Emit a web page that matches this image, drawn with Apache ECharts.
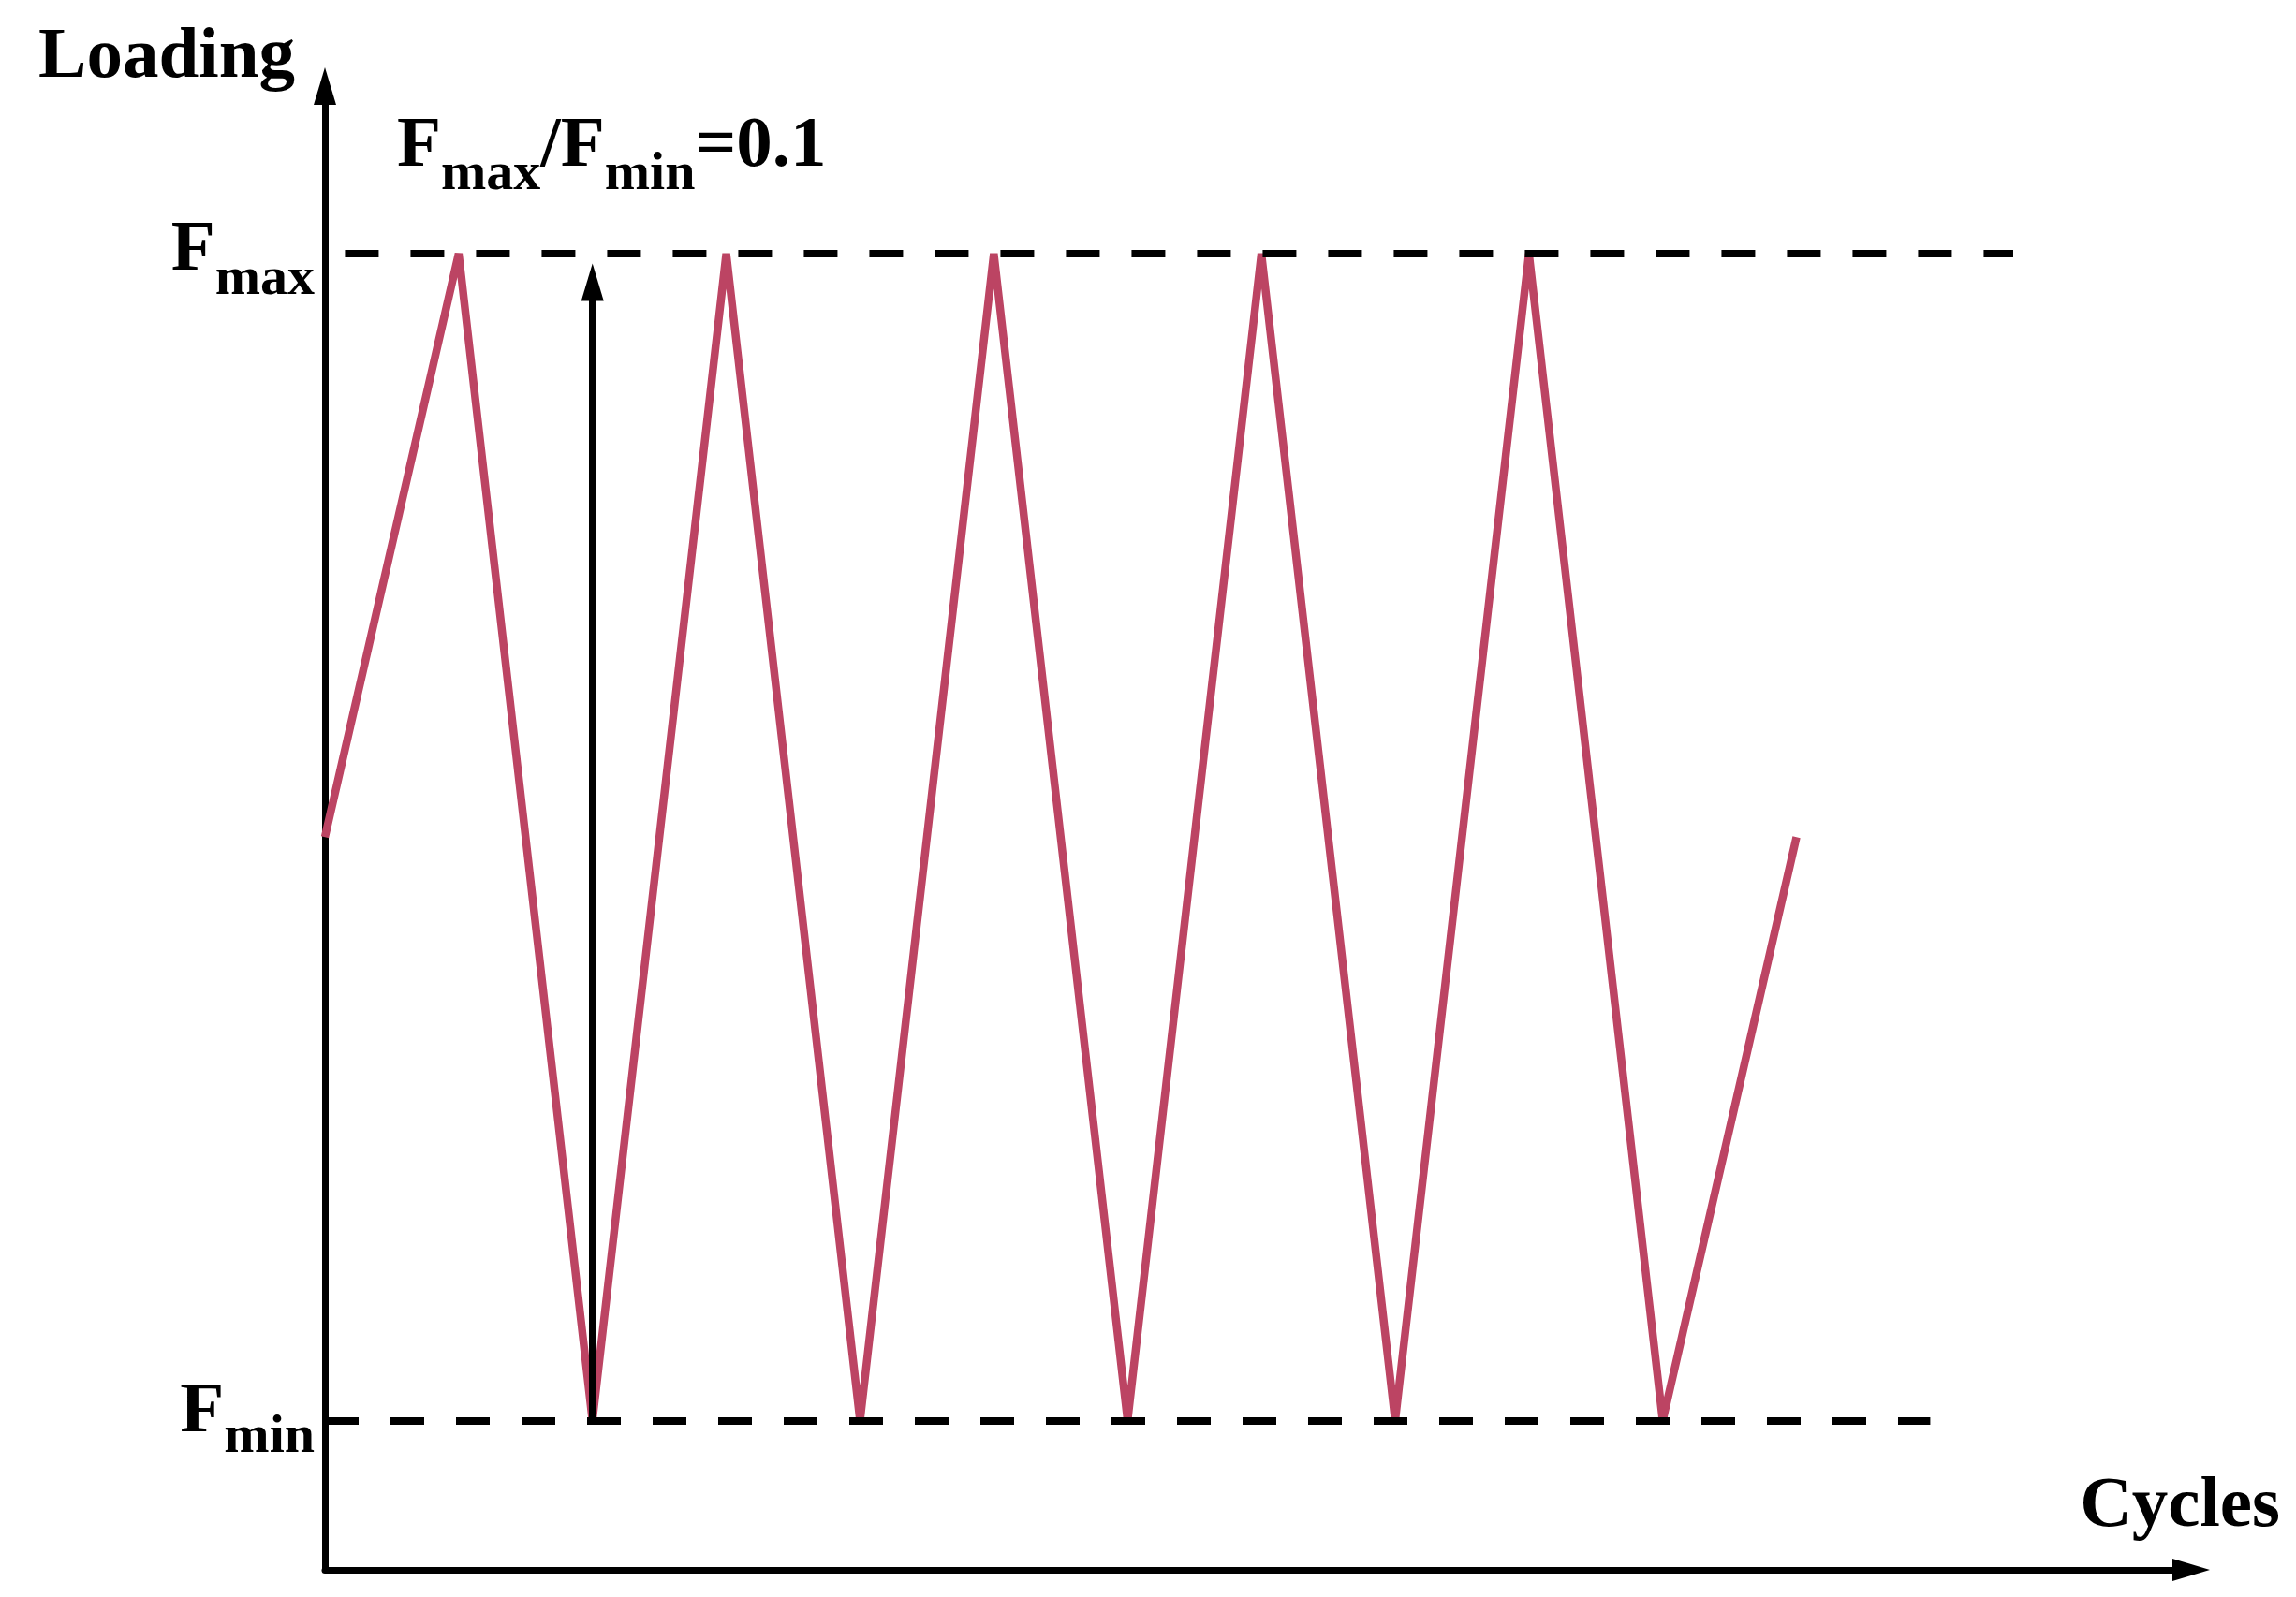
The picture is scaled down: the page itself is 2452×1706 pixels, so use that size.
<!DOCTYPE html>
<html>
<head>
<meta charset="utf-8">
<script src="https://cdn.jsdelivr.net/npm/echarts/dist/echarts.min.js"></script>
<style>
  html, body { margin: 0; padding: 0; background: #ffffff; }
  #chart { width: 2452px; height: 1706px; }
</style>
</head>
<body>
<div id="chart"></div>
<script>
// ---- data ----
const FMAX = 1.0;
const FMIN = 0.1;
const FMEAN = 0.55;
const cycleX = [0, 1, 2, 3, 4, 5, 6, 7, 8, 9, 10, 11];
const loadY  = [FMEAN, FMAX, FMIN, FMAX, FMIN, FMAX, FMIN, FMAX, FMIN, FMAX, FMIN, FMEAN];
const yTickValues = [FMIN, FMAX];
const yTickNames = { min: 'min', max: 'max' };
const axisNames = { x: 'Cycles', y: 'Loading' };
const ratioText = { sub1: 'max', sub2: 'min', value: '0.1' };
const fmaxLineX = [0.15, 12.62];
const fminLineX = [0, 12.0];
const rangeArrowX = 2;
const rangeArrowY = [FMIN, 0.978];
const X_MIN = 0, X_MAX = 13.95;
const Y_MIN = -0.0152, Y_MAX = 1.1292;

// ---- chart ----
const FONT = "'Liberation Serif', 'Times New Roman', serif";
const RED = '#BC4463';
const chart = echarts.init(document.getElementById('chart'), null, { renderer: 'canvas' });

const wave = cycleX.map((x, i) => [x, loadY[i]]);

const mainTxt = { fontSize: 77, fontWeight: 'bold', fontFamily: FONT, color: '#000' };
const subTxt = { fontSize: 58, fontWeight: 'bold', fontFamily: FONT, color: '#000' };

chart.setOption({
  animation: false,
  backgroundColor: '#ffffff',
  grid: { left: 347, right: 112, top: 92, bottom: 29, containLabel: false, outerBoundsMode: 'none' },
  xAxis: {
    type: 'value', min: X_MIN, max: X_MAX,
    name: axisNames.x, nameLocation: 'end', nameGap: 95,
    nameTextStyle: Object.assign({}, mainTxt, { align: 'right', verticalAlign: 'bottom', lineHeight: 77, padding: [0, 0, 28, 0] }),
    axisLine: { show: true, onZero: false, symbol: ['none', 'triangle'], symbolSize: [24, 40],
      lineStyle: { color: '#000', width: 7 } },
    axisTick: { show: false }, axisLabel: { show: false }, splitLine: { show: false }
  },
  yAxis: {
    type: 'value', min: Y_MIN, max: Y_MAX,
    name: axisNames.y, nameLocation: 'end', nameGap: 30,
    nameTextStyle: Object.assign({}, mainTxt, { align: 'right', verticalAlign: 'middle', padding: [0, 32, 0, 0] }),
    axisLine: { show: true, onZero: false, symbol: ['none', 'triangle'], symbolSize: [24, 40],
      lineStyle: { color: '#000', width: 7 } },
    axisTick: { show: false }, splitLine: { show: false },
    axisLabel: {
      show: true, margin: 11, customValues: yTickValues,
      formatter: function (v) {
        return v === FMAX ? '{Fa|F}{sa|' + yTickNames.max + '}' : '{Fb|F}{sb|' + yTickNames.min + '}';
      },
      rich: {
        Fa: Object.assign({}, mainTxt, { padding: [0, 0, 6, 0] }),
        sa: Object.assign({}, subTxt, { padding: [57, 0, 0, 0] }),
        Fb: Object.assign({}, mainTxt, { padding: [0, 0, 16, 0] }),
        sb: Object.assign({}, subTxt, { padding: [38, 0, 0, 0] })
      }
    }
  },
  graphic: [{
    type: 'text', x: 424, y: 157, z: 10,
    style: {
      text: '{F|F}{s|' + ratioText.sub1 + '}{F|/F}{s|' + ratioText.sub2 + '}{F|=' + ratioText.value + '}',
      align: 'left', verticalAlign: 'middle',
      rich: {
        F: Object.assign({}, mainTxt, { fill: '#000' }),
        s: Object.assign({}, subTxt, { fill: '#000', padding: [60, 0, 0, 0] })
      }
    }
  }],
  series: [
    {
      type: 'line', data: wave, showSymbol: false, symbol: 'none', z: 2,
      lineStyle: { color: RED, width: 8.5, join: 'bevel' }, silent: true
    },
    {
      type: 'line', data: [], z: 5, silent: true,
      markLine: {
        silent: true, animation: false,
        label: { show: false },
        emphasis: { disabled: true },
        data: [
          [{ coord: [fmaxLineX[0], FMAX], symbol: 'none', lineStyle: { color: '#000', width: 8, type: [36, 34] } },
           { coord: [fmaxLineX[1], FMAX], symbol: 'none' }],
          [{ coord: [fminLineX[0], FMIN], symbol: 'none', lineStyle: { color: '#000', width: 8, type: [36, 34] } },
           { coord: [fminLineX[1], FMIN], symbol: 'none' }],
          [{ coord: [rangeArrowX, rangeArrowY[0]], symbol: 'none', lineStyle: { color: '#000', width: 7, type: 'solid' } },
           { coord: [rangeArrowX, rangeArrowY[1]], symbol: 'triangle', symbolSize: [24, 40] }]
        ]
      }
    }
  ]
});
</script>
</body>
</html>
